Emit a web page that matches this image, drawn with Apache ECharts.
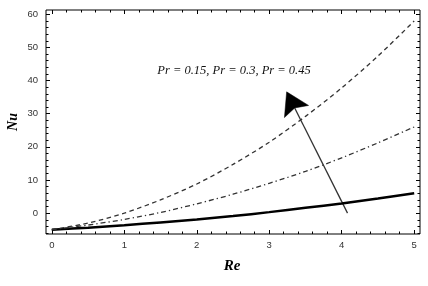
<!DOCTYPE html>
<html>
<head>
<meta charset="utf-8">
<script src="https://cdn.jsdelivr.net/npm/echarts@6/dist/echarts.min.js"></script>
<style>
html,body{margin:0;padding:0;background:#fff;}
#c{width:428px;height:286px;}
</style>
</head>
<body>
<div id="c"></div>
<script>
// Data
const reValues = [0, 0.5, 1, 1.5, 2, 2.5, 3, 3.5, 4, 4.5, 5];
const nuSolid  = [-5, -4.4, -3.65, -2.8, -1.9, -0.9, 0.3, 1.6, 2.9, 4.4, 6.0];
const nuDashDot = [-5, -3.6, -1.9, 0.2, 2.8, 5.7, 9.0, 12.6, 16.7, 21.2, 26.0];
const nuDashed = [-5, -3.0, 0.0, 4.0, 8.8, 14.7, 21.4, 29.2, 37.8, 47.4, 58.0];
const xMajorTicks = [0, 1, 2, 3, 4, 5];
const yMajorTicks = [0, 10, 20, 30, 40, 50, 60];
const arrowTail = [4.08, 0.0];
const arrowTip = [3.24, 36.6];
const annotationText = 'Pr = 0.15, Pr = 0.3, Pr = 0.45';
const xTitle = 'Re';
const yTitle = 'Nu';

const xRange = [-0.08, 5.08];
const yRange = [-6.3, 61.3];

function minorValues(lo, hi, step, majors) {
  const out = [];
  const n = Math.round((hi - lo) / step);
  for (let i = 0; i <= n; i++) {
    const v = +(lo + i * step).toFixed(4);
    if (!majors.some(m => Math.abs(m - v) < 1e-6)) out.push(v);
  }
  return out;
}
const xMinor = minorValues(0, 5, 0.2, xMajorTicks);
const yMinor = minorValues(-6, 60, 2, yMajorTicks);

const labelFont = {fontFamily: 'Liberation Sans', fontSize: 9.5, color: '#333'};

function xAx(pos, ticks, len, showLabel) {
  return {
    type: 'value', position: pos, min: xRange[0], max: xRange[1],
    axisLine: {show: false, onZero: false}, splitLine: {show: false},
    axisTick: {show: true, inside: true, length: len, customValues: ticks,
      lineStyle: {color: '#000', width: 1}},
    axisLabel: showLabel ? Object.assign({show: true, customValues: ticks, margin: 6}, labelFont) : {show: false}
  };
}
function yAx(pos, ticks, len, showLabel) {
  return {
    type: 'value', position: pos, min: yRange[0], max: yRange[1],
    axisLine: {show: false, onZero: false}, splitLine: {show: false},
    axisTick: {show: true, inside: true, length: len, customValues: ticks,
      lineStyle: {color: '#000', width: 1}},
    axisLabel: showLabel ? Object.assign({show: true, customValues: ticks, margin: 8}, labelFont) : {show: false}
  };
}

const chart = echarts.init(document.getElementById('c'), null, {renderer: 'canvas'});
const zip = ys => reValues.map((x, i) => [x, ys[i]]);

chart.setOption({
  animation: false,
  backgroundColor: '#fff',
  grid: {left: 46, top: 10, right: 8, bottom: 52, show: true,
    borderColor: '#000', borderWidth: 1, backgroundColor: 'transparent'},
  xAxis: [
    xAx('bottom', xMajorTicks, 4, true),
    xAx('bottom', xMinor, 2.5, false),
    xAx('top', xMajorTicks, 4, false),
    xAx('top', xMinor, 2.5, false)
  ],
  yAxis: [
    yAx('left', yMajorTicks, 4, true),
    yAx('left', yMinor, 2.5, false),
    yAx('right', yMajorTicks, 4, false),
    yAx('right', yMinor, 2.5, false)
  ],
  series: [
    {type: 'line', data: zip(nuSolid), smooth: 0.3, showSymbol: false,
      lineStyle: {color: '#000', width: 2.5}},
    {type: 'line', data: zip(nuDashDot), smooth: 0.3, showSymbol: false,
      lineStyle: {color: '#333', width: 1.3, type: [5, 3, 1.3, 3]}},
    {type: 'line', data: zip(nuDashed), smooth: 0.3, showSymbol: false,
      lineStyle: {color: '#333', width: 1.3, type: [4.5, 3.5]}},
    {type: 'custom', coordinateSystem: 'cartesian2d', clip: false, data: [[0]],
      renderItem: function (params, api) {
        const t = api.coord(arrowTail);
        const h = api.coord(arrowTip);
        const dx = h[0] - t[0], dy = h[1] - t[1];
        const L = Math.sqrt(dx * dx + dy * dy);
        const ux = dx / L, uy = dy / L;
        const nx = -uy, ny = ux;
        const headLen = 22, halfW = 13.5, notch = 4;
        const bx = h[0] - ux * headLen, by = h[1] - uy * headLen;
        const nxp = h[0] - ux * (headLen - notch), nyp = h[1] - uy * (headLen - notch);
        return {
          type: 'group',
          children: [
            {type: 'line', shape: {x1: t[0], y1: t[1], x2: nxp, y2: nyp},
              style: {stroke: '#333', lineWidth: 1.3}},
            {type: 'polygon', shape: {points: [
              [h[0], h[1]],
              [bx + nx * halfW, by + ny * halfW],
              [nxp, nyp],
              [bx - nx * halfW, by - ny * halfW]
            ]}, style: {fill: '#000', stroke: '#000', lineWidth: 0.5}}
          ]
        };
      }
    }
  ],
  graphic: [
    {type: 'text', x: 234, y: 71, style: {text: annotationText,
      font: 'italic 12.5px "Liberation Serif"', fill: '#111', align: 'center', verticalAlign: 'middle'}},
    {type: 'text', x: 232, y: 266, style: {text: xTitle,
      font: 'italic bold 15px "Liberation Serif"', fill: '#000', align: 'center', verticalAlign: 'middle'}},
    {type: 'text', x: 13, y: 122, rotation: Math.PI / 2, style: {text: yTitle,
      font: 'italic bold 14px "Liberation Serif"', fill: '#000', align: 'center', verticalAlign: 'middle'}}
  ]
});
</script>
</body>
</html>
